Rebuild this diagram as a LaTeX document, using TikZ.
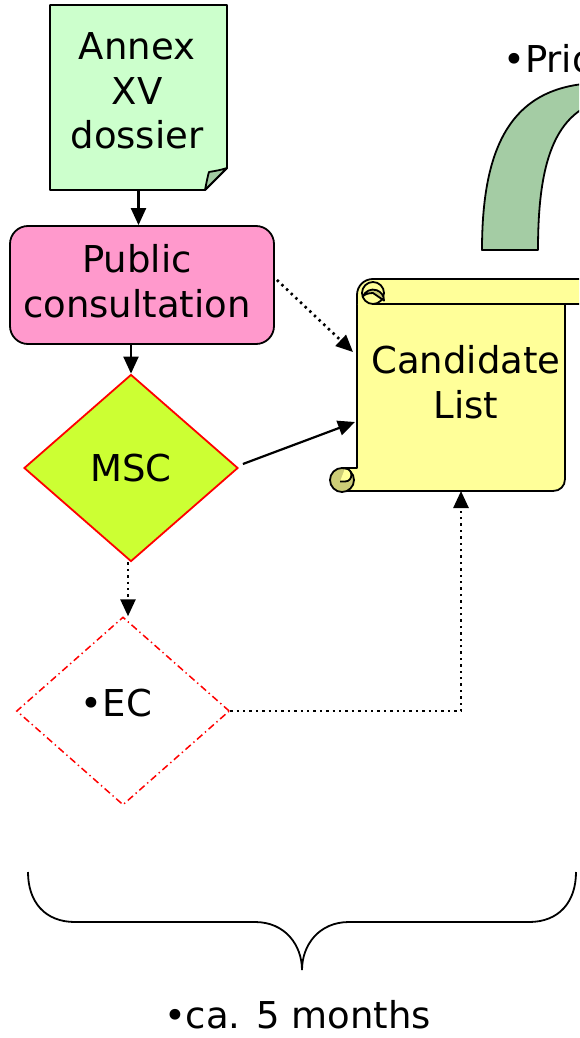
\documentclass[tikz,border=0pt]{standalone}
\usepackage{fontspec}
\setmainfont{DejaVu Sans}
\usetikzlibrary{shapes.geometric,arrows.meta,calc}
\definecolor{annexgreen}{HTML}{CCFFCC}
\definecolor{folddark}{HTML}{A3CCA3}
\definecolor{pubpink}{HTML}{FF99CC}
\definecolor{mscgreen}{HTML}{CCFF33}
\definecolor{scrollyel}{HTML}{FFFF99}
\definecolor{curldark}{HTML}{CCCC77}
\definecolor{arcgreen}{HTML}{A4CCA4}
\begin{document}
\begin{tikzpicture}[x=1pt,y=-1pt,
  txt/.style={font=\fontsize{37}{44.5}\selectfont, align=center, inner sep=0pt},
  outline/.style={draw=black, line width=1.8pt, line join=round},
  ghost/.style={draw=none, inner sep=0pt, outer sep=0pt},
  tip/.style={-{Triangle[length=17pt,width=15pt]}},
  arr/.style={line width=2.2pt, tip},
  dotarr/.style={line width=2.6pt, dash pattern=on 2.4pt off 4pt, tip},
  mscshape/.style={diamond, draw=red, line width=1.8pt, fill=mscgreen, inner sep=0pt,
     minimum width=214pt, minimum height=187pt},
  ecshape/.style={diamond, draw=red, line width=1.5pt, inner sep=0pt,
     dash pattern=on 7pt off 3.5pt on 1.4pt off 3.5pt,
     minimum width=213pt, minimum height=188pt},
  pubshape/.style={rectangle, rounded corners=18pt, outline, fill=pubpink,
     minimum width=264pt, minimum height=118pt, inner sep=0pt}
]
\useasboundingbox (0,0) rectangle (579,1038);
\clip (0,0) rectangle (579,1038);

% ---- green block arc (top right) ----
\draw[outline, fill=arcgreen]
  (482,250) .. controls (482,145) and (512,84) .. (600,83)
  -- (610,99) .. controls (552,108) and (538,168) .. (538,250) -- cycle;
\node[txt, anchor=base west] (prio) at (503,73) {•Prio};

% ---- Annex XV dossier (document shape) ----
\node[ghost, minimum width=177pt, minimum height=185pt] (annex) at (138.5,97.5) {};
\draw[outline, fill=annexgreen]
  (annex.north west) -- (annex.north east) -- ([yshift=22pt]annex.south east)
  -- ([xshift=-22pt]annex.south east) -- (annex.south west) -- cycle;
\draw[outline, fill=folddark]
  ([xshift=-22pt]annex.south east) .. controls (207,180) and (208,175) .. (209,172)
  .. controls (215,171) and (221,170) .. ([yshift=22pt]annex.south east) -- cycle;
\node[txt] (annexlbl) at (137,91) {Annex\\XV\\dossier};

% ---- Public consultation ----
\node[pubshape] (pub) at (142,285) {};
\node[txt] (publbl) at (137,281) {Public\\consultation};

% ---- MSC ----
\node[mscshape, font=\fontsize{37}{44}\selectfont] (msc) at (131,468) {MSC};

% ---- EC ----
\node[ecshape] (ec) at (123,711) {};
\node[txt] (eclbl) at (116.5,703) {•EC};

% ---- Candidate List scroll ----
\node[ghost, minimum width=208pt, minimum height=196pt] (cand) at (461,393) {};
\draw[outline, fill=scrollyel]
  (357,295) -- (357,468) -- (342,468) -- (342,491) -- (553,491)
  .. controls (560,491) and (565,486) .. (565,479) -- (565,295) -- cycle;
\fill[scrollyel] (600,279) -- (373,279) .. controls (364,279) and (357,286) .. (357,295)
  -- (357,304) -- (600,304) -- cycle;
\draw[outline] (600,279) -- (373,279) .. controls (364,279) and (357,286) .. (357,295) -- (357,304);
\draw[outline] (373,304) -- (600,304);
% top curl
\draw[outline, fill=scrollyel] (373,293) circle[radius=11pt];
\draw[outline, fill=curldark] (362.7,296.8) arc[start angle=160, end angle=0, radius=11pt]
  -- (373,293) .. controls (368,293) and (364,294.5) .. cycle;
% bottom curl
\draw[outline, fill=curldark] (342,480) circle[radius=12pt];
\draw[outline, fill=scrollyel] (345,468.5) .. controls (353.5,468.5) and (353.5,481.5) .. (345,481.5)
  -- (340,481.5);
\node[txt] (candlbl) at (466,382) {Candidate\\List};

% ---- connectors ----
\draw[arr] (annex.south) -- (annex.south |- pub.north);
\draw[arr] (msc.north |- pub.south) -- (msc.north);
\draw[arr] ([xshift=4pt,yshift=4pt]msc.east) -- ($(cand.west)+(-2,29)$);
\draw[dotarr] ([xshift=2pt,yshift=5pt]pub.east) -- ($(cand.west)+(-4,-41)$);
\draw[dotarr] ([xshift=-3pt]msc.south) -- ([xshift=-3pt]msc.south |- ec.north);
\draw[dotarr] (ec.east) -| (cand.south);

% ---- brace and duration ----
\coordinate (bl) at (28,872);
\coordinate (br) at (576,872);
\coordinate (btip) at (302,970);
\draw[line width=1.8pt]
  (bl) .. controls (28,902) and (45,922) .. (75,922) -- (255,922)
  .. controls (285,922) and (302,945) .. (btip)
  .. controls (302,945) and (319,922) .. (349,922) -- (529,922)
  .. controls (559,922) and (576,902) .. (br);
\node[txt] (months) at (297.5,1015) {•ca. 5 months};
\end{tikzpicture}
\end{document}
